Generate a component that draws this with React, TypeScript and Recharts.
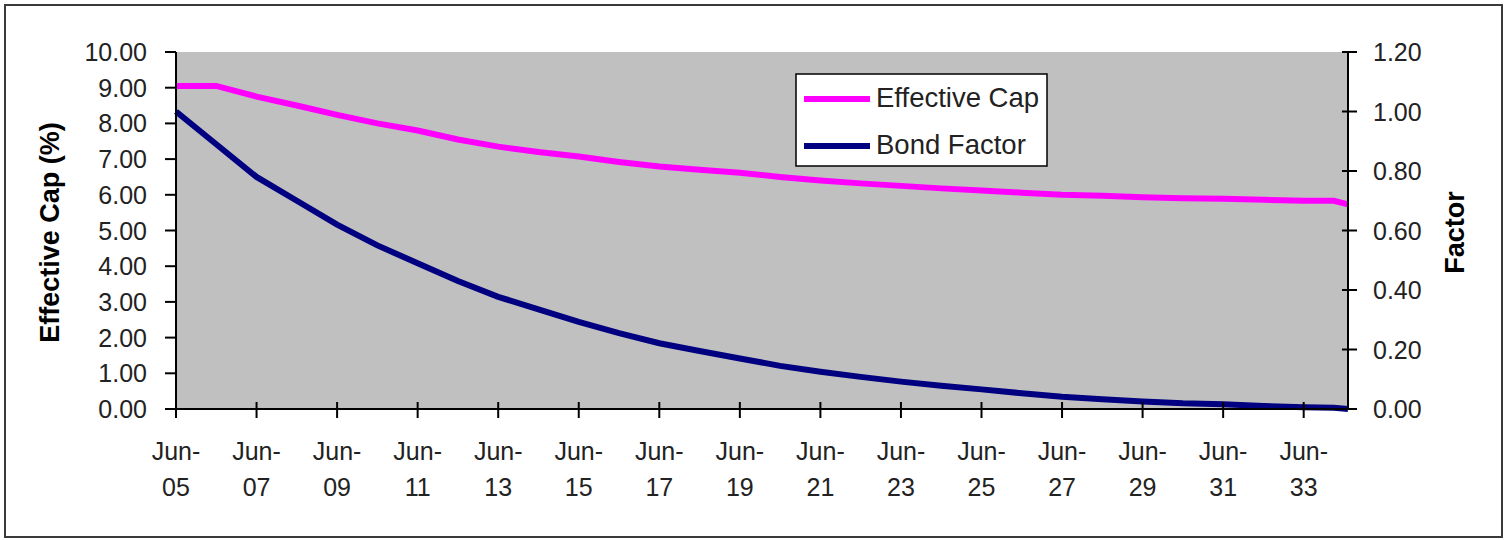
import React from 'react';
import { LineChart, Line, XAxis, YAxis, CartesianGrid, Legend } from 'recharts';

const years = [2005, 2006, 2007, 2008, 2009, 2010, 2011, 2012, 2013, 2014, 2015, 2016, 2017, 2018, 2019, 2020, 2021, 2022, 2023, 2024, 2025, 2026, 2027, 2028, 2029, 2030, 2031, 2032, 2033, 2033.75, 2034.1];
const effectiveCap = [9.05, 9.05, 8.75, 8.5, 8.24, 8.0, 7.8, 7.55, 7.35, 7.2, 7.07, 6.92, 6.79, 6.7, 6.62, 6.5, 6.4, 6.32, 6.25, 6.18, 6.12, 6.06, 6.0, 5.97, 5.93, 5.9, 5.89, 5.86, 5.83, 5.83, 5.73];
const bondFactor = [1.0, 0.89, 0.78, 0.7, 0.62, 0.55, 0.49, 0.43, 0.377, 0.335, 0.293, 0.255, 0.221, 0.195, 0.17, 0.145, 0.125, 0.108, 0.092, 0.078, 0.066, 0.053, 0.041, 0.033, 0.025, 0.019, 0.016, 0.01, 0.006, 0.004, 0.0];
const xTicks = [2005, 2007, 2009, 2011, 2013, 2015, 2017, 2019, 2021, 2023, 2025, 2027, 2029, 2031, 2033];
const leftTicks = [0, 1, 2, 3, 4, 5, 6, 7, 8, 9, 10];
const rightTicks = [0, 0.2, 0.4, 0.6, 0.8, 1.0, 1.2];

const data = years.map((y, i) => ({ year: y, cap: effectiveCap[i], factor: bondFactor[i] }));

const FONT = '"Liberation Sans", Arial, sans-serif';
const TEXT = '#222';

const XTick = (props: any) => {
  const { x, y, payload } = props;
  const yy = String(Math.round(payload.value) % 100).padStart(2, '0');
  return (
    <g>
      <line x1={x} x2={x} y1={y - 7} y2={y + 9} stroke="#000" strokeWidth={2} />
      <text x={x} y={y + 51} textAnchor="middle" fontFamily={FONT} fontSize={25} fill={TEXT}>Jun-</text>
      <text x={x} y={y + 87} textAnchor="middle" fontFamily={FONT} fontSize={25} fill={TEXT}>{yy}</text>
    </g>
  );
};

const RightTick = (props: any) => {
  const { x, y, payload } = props;
  return (
    <g>
      <line x1={x - 6} x2={x + 9} y1={y} y2={y} stroke="#000" strokeWidth={2} />
      <text x={x + 25} y={y + 9} textAnchor="start" fontFamily={FONT} fontSize={25} fill={TEXT}>{Number(payload.value).toFixed(2)}</text>
    </g>
  );
};

const LeftTick = (props: any) => {
  const { x, y, payload } = props;
  return (
    <text x={x} y={y + 9} textAnchor="end" fontFamily={FONT} fontSize={25} fill={TEXT}>{Number(payload.value).toFixed(2)}</text>
  );
};

const LegendBox = () => (
  <svg width={254} height={95} style={{ display: 'block' }}>
    <rect x={1} y={1} width={251} height={92} fill="#fff" stroke="#000" strokeWidth={1.5} />
    <line x1={9} x2={75} y1={26} y2={26} stroke="#FF00FF" strokeWidth={6} />
    <text x={81} y={34} fontFamily={FONT} fontSize={27.5} fill={TEXT}>Effective Cap</text>
    <line x1={9} x2={75} y1={73} y2={73} stroke="#000080" strokeWidth={6} />
    <text x={81} y={81} fontFamily={FONT} fontSize={27.5} fill={TEXT}>Bond Factor</text>
  </svg>
);

const LeftLabel = (props: any) => {
  const vb = props.viewBox || {};
  const cx = vb.x + 50;
  const cy = vb.y + vb.height / 2 + 2;
  return (
    <text x={cx} y={cy} transform={`rotate(-90, ${cx}, ${cy})`} textAnchor="middle" dominantBaseline="central" fontFamily={FONT} fontWeight="bold" fontSize={27} fill="#000">Effective Cap (%)</text>
  );
};

const RightLabel = (props: any) => {
  const vb = props.viewBox || {};
  const cx = vb.x + 107;
  const cy = vb.y + vb.height / 2 + 2;
  return (
    <text x={cx} y={cy} transform={`rotate(-90, ${cx}, ${cy})`} textAnchor="middle" dominantBaseline="central" fontFamily={FONT} fontWeight="bold" fontSize={27} fill="#000">Factor</text>
  );
};

export default function App() {
  return (
    <div style={{ position: 'absolute', left: 0, top: 0, width: 1507, height: 540, background: '#fff' }}>
      <div style={{ position: 'absolute', left: 4, top: 4, width: 1495, height: 530, border: '2px solid #3a3a3a' }} />
      <LineChart width={1507} height={540} data={data} margin={{ top: 52, right: 0, bottom: 0, left: 0 }}>
        <CartesianGrid fill="#C0C0C0" stroke="none" />
        <XAxis
          dataKey="year"
          type="number"
          domain={[2005, 2034.1]}
          ticks={xTicks}
          interval={0}
          height={131}
          axisLine={{ stroke: '#000', strokeWidth: 2 }}
          tickLine={false}
          tickSize={0}
          tickMargin={0}
          tick={<XTick />}
        />
        <YAxis
          yAxisId="left"
          orientation="left"
          width={176}
          domain={[0, 10]}
          ticks={leftTicks}
          interval={0}
          axisLine={{ stroke: '#000', strokeWidth: 2 }}
          tickLine={{ stroke: '#000', strokeWidth: 2 }}
          tickSize={11}
          tickMargin={18}
          tick={<LeftTick />}
          label={<LeftLabel />}
        />
        <YAxis
          yAxisId="right"
          orientation="right"
          width={159}
          domain={[0, 1.2]}
          ticks={rightTicks}
          interval={0}
          axisLine={{ stroke: '#000', strokeWidth: 2 }}
          tickLine={false}
          tickSize={0}
          tickMargin={0}
          tick={<RightTick />}
          label={<RightLabel />}
        />
        <Legend
          layout="vertical"
          align="center"
          verticalAlign="middle"
          wrapperStyle={{ position: 'absolute', left: 795, top: 73, width: 254, height: 95 }}
          content={() => <LegendBox />}
        />
        <Line yAxisId="left" type="linear" dataKey="cap" stroke="#FF00FF" strokeWidth={6} dot={false} isAnimationActive={false} />
        <Line yAxisId="right" type="linear" dataKey="factor" stroke="#000080" strokeWidth={6} dot={false} isAnimationActive={false} />
      </LineChart>
    </div>
  );
}
